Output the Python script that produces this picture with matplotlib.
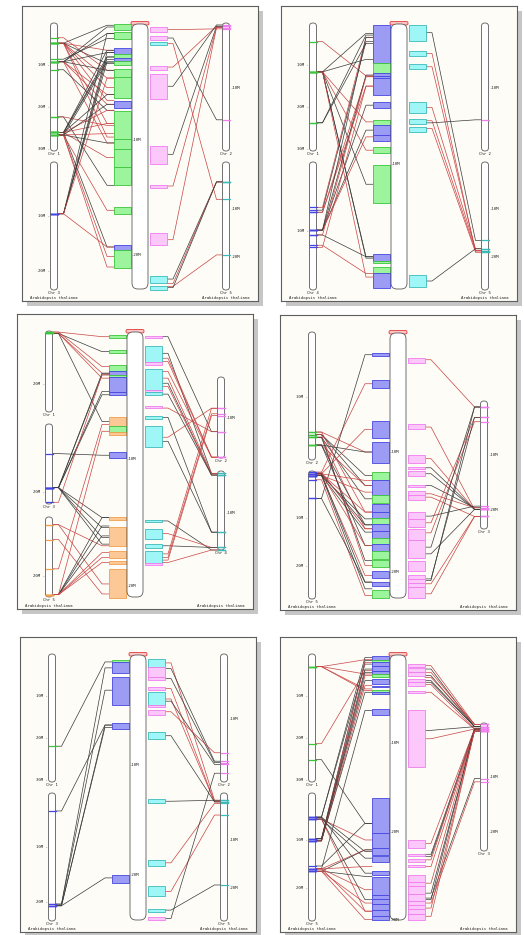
import matplotlib.pyplot as plt
from matplotlib.patches import Rectangle, FancyBboxPatch

# chromosome lengths (Mb), Arabidopsis thaliana
CHR_LEN = {"Chr 1": 30.4, "Chr 2": 19.7, "Chr 3": 23.5, "Chr 4": 18.6, "Chr 5": 27.0}
SPECIES = "Arabidopsis thaliana"

# length of the central (query) chromosome of each panel, Mb
CENTER_LEN = [22.9, 18.9, 20.9, 22.2, 24.1, 30.0]

# ---- panel 1 ----
P1_LEFT_CHR = ["Chr 1", "Chr 3"]
P1_RIGHT_CHR = ["Chr 2", "Chr 5"]
# (chrom idx, start Mb, end Mb) on the central chromosome
P1_LEFT_BLOCKS = [(0, 0.0, 0.5), (0, 0.7, 1.3), (1, 2.1, 2.6), (0, 2.6, 2.9), (1, 2.9, 3.2),
                  (0, 3.2, 3.5), (0, 3.9, 4.6), (0, 4.6, 6.4), (1, 6.65, 7.3), (0, 7.5, 9.9),
                  (0, 9.9, 10.77), (0, 10.77, 12.36), (0, 12.36, 13.9), (0, 15.8, 16.4),
                  (1, 19.1, 19.5), (0, 19.5, 21.1)]
P1_RIGHT_BLOCKS = [(0, 0.3, 0.65), (0, 1.05, 1.35), (1, 1.55, 1.8), (0, 3.6, 3.95), (0, 4.3, 6.5),
                   (0, 10.55, 12.1), (0, 13.9, 14.2), (0, 18.1, 19.1), (1, 21.75, 22.4),
                   (1, 22.6, 22.95)]
# (chrom idx, chrom Mb, central Mb, colour)
P1_LEFT_LINKS = [(0, 4.8, 0.11, 'k'), (0, 4.8, 2.27, 'r'), (0, 4.8, 4.67, 'r'), (0, 4.8, 5.5, 'r'),
                 (0, 4.8, 6.6, 'r'), (0, 4.8, 8.6, 'r'), (0, 4.8, 3.42, 'k'), (0, 4.8, 9.77, 'r'),
                 (0, 3.5, 4.0, 'r'), (0, 9.2, 0.26, 'k'), (0, 9.2, 0.83, 'k'), (0, 9.2, 2.47, 'k'),
                 (0, 9.2, 6.1, 'r'), (0, 9.2, 6.94, 'r'), (0, 9.2, 10.28, 'r'), (0, 9.2, 4.0, 'k'),
                 (0, 8.6, 1.26, 'k'), (0, 11.1, 7.46, 'k'), (0, 22.3, 13.94, 'k'), (0, 22.3, 8.76, 'r'),
                 (0, 26.0, 2.27, 'k'), (0, 26.0, 2.85, 'k'), (0, 26.0, 3.08, 'k'), (0, 26.0, 6.1, 'k'),
                 (0, 26.0, 7.46, 'r'), (0, 26.0, 8.6, 'r'), (0, 26.0, 11.55, 'r'), (0, 26.0, 19.27, 'k'),
                 (0, 26.6, 3.28, 'k'), (0, 26.6, 6.94, 'k'), (0, 26.6, 9.47, 'r'), (0, 26.6, 20.08, 'r'),
                 (0, 26.6, 21.0, 'r'), (0, 26.6, 16.1, 'r'), (0, 26.6, 10.28, 'k'),
                 (1, 9.5, 2.47, 'k'), (1, 9.5, 2.85, 'k'), (1, 9.5, 3.28, 'k'), (1, 9.5, 0.83, 'k'),
                 (1, 9.5, 19.27, 'r'), (1, 9.5, 4.67, 'r')]
P1_RIGHT_LINKS = [(0, 0.9, 0.49, 'r'), (0, 14.9, 1.21, 'k'), (1, 7.9, 1.7, 'r'), (0, 0.5, 3.72, 'r'),
                  (0, 0.3, 5.38, 'k'), (0, 0.5, 11.26, 'k'), (0, 0.7, 14.0, 'r'), (0, 0.7, 18.64, 'r'),
                  (1, 4.2, 22.04, 'k'), (1, 4.2, 22.44, 'r'), (1, 19.6, 22.67, 'r'), (1, 4.2, 22.78, 'k')]

# ---- panel 2 ----
P2_LEFT_CHR = ["Chr 1", "Chr 4"]
P2_RIGHT_CHR = ["Chr 2", "Chr 5"]
P2_LEFT_BLOCKS = [(1, 0.07, 2.76), (0, 2.76, 3.5), (1, 3.5, 3.71), (1, 3.71, 3.88), (1, 3.88, 5.07),
                  (1, 5.55, 6.02), (0, 6.86, 7.2), (1, 7.2, 7.93), (1, 7.93, 8.33), (0, 8.8, 9.2),
                  (0, 10.07, 12.8), (1, 16.4, 16.9), (0, 16.9, 17.05), (0, 17.3, 17.76),
                  (1, 17.76, 18.8)]
P2_RIGHT_BLOCKS = [(1, 0.07, 1.19), (1, 1.9, 2.28), (1, 2.86, 3.19), (1, 5.55, 6.33),
                   (1, 6.81, 7.14), (1, 7.34, 7.69), (1, 17.9, 18.76)]
P2_LEFT_LINKS = [(0, 4.4, 3.7, 'r'), (0, 11.6, 2.52, 'k'), (0, 11.6, 0.67, 'k'), (0, 11.6, 6.98, 'r'),
                 (0, 11.6, 9.0, 'r'), (0, 11.6, 11.43, 'k'), (0, 11.6, 16.7, 'k'), (0, 11.6, 16.6, 'k'),
                 (0, 11.6, 18.05, 'r'), (0, 23.7, 0.79, 'k'), (0, 23.7, 1.38, 'k'),
                 (1, 6.6, 0.95, 'r'), (1, 7.0, 1.26, 'k'), (1, 7.3, 3.76, 'r'), (1, 7.3, 4.43, 'r'),
                 (1, 9.9, 3.64, 'k'), (1, 9.9, 5.79, 'k'), (1, 9.9, 7.57, 'k'), (1, 9.9, 8.05, 'r'),
                 (1, 9.9, 0.95, 'k'), (1, 10.6, 16.6, 'k'), (1, 10.6, 3.76, 'r'),
                 (1, 12.1, 17.8, 'r'), (1, 12.4, 4.43, 'r')]
P2_RIGHT_LINKS = [(1, 16.55, 0.62, 'k'), (1, 19.0, 2.1, 'r'), (1, 18.67, 3.05, 'r'), (1, 18.3, 5.95, 'r'),
                  (1, 18.67, 6.9, 'r'), (0, 14.9, 7.05, 'k'), (1, 19.0, 7.45, 'r'), (1, 18.3, 18.33, 'k')]

# ---- panel 3 ----
P3_LEFT_CHR = ["Chr 1", "Chr 3", "Chr 5"]
P3_RIGHT_CHR = ["Chr 2", "Chr 4"]
P3_LEFT_BLOCKS = [(0, 0.24, 0.5), (0, 1.41, 1.68), (0, 2.6, 3.1), (1, 3.1, 3.4), (0, 3.4, 3.57),
                  (1, 3.57, 4.77), (1, 4.77, 5.0), (2, 6.7, 7.45), (0, 7.45, 7.85), (2, 7.85, 8.1),
                  (1, 9.46, 9.93), (2, 14.6, 14.8), (2, 15.4, 16.9), (2, 17.3, 17.8), (2, 18.1, 18.3),
                  (2, 18.7, 21.0)]
P3_RIGHT_BLOCKS = [(0, 0.29, 0.5), (1, 1.1, 2.39), (0, 2.39, 2.6), (1, 2.9, 4.6), (0, 4.6, 4.77),
                   (1, 4.77, 5.0), (0, 5.8, 6.0), (1, 6.65, 6.86), (1, 7.44, 9.09), (1, 14.82, 14.98),
                   (1, 15.5, 16.3), (1, 16.7, 17.0), (1, 17.26, 18.2), (0, 18.2, 18.36)]
P3_LEFT_LINKS = [(0, 0.4, 0.37, 'r'), (0, 0.9, 1.55, 'k'), (0, 0.4, 2.73, 'r'), (0, 0.9, 3.25, 'r'),
                 (0, 0.9, 3.64, 'r'), (0, 0.9, 7.05, 'k'), (1, 8.7, 9.72, 'k'),
                 (1, 18.7, 3.25, 'k'), (1, 18.7, 3.38, 'k'), (1, 18.7, 4.95, 'k'), (1, 18.7, 4.69, 'k'),
                 (1, 23.0, 3.38, 'r'), (1, 18.7, 14.64, 'k'), (1, 18.7, 15.43, 'k'), (1, 18.7, 16.2, 'k'),
                 (1, 18.7, 16.73, 'k'), (2, 2.6, 16.86, 'r'), (2, 2.6, 19.87, 'r'), (2, 7.6, 20.66, 'r'),
                 (2, 17.5, 7.3, 'r'), (2, 26.2, 14.64, 'k'), (2, 26.2, 15.3, 'k'), (2, 26.2, 16.08, 'k'),
                 (2, 26.2, 17.4, 'r'), (2, 26.2, 17.78, 'r'), (2, 26.2, 18.18, 'r'), (2, 26.2, 7.83, 'r')]
P3_RIGHT_LINKS = [(0, 13.3, 0.37, 'k'), (1, 0.55, 1.68, 'k'), (0, 19.5, 2.07, 'r'), (0, 19.5, 2.33, 'r'),
                  (0, 19.5, 3.12, 'r'), (1, 0.55, 3.64, 'r'), (1, 0.95, 4.04, 'k'), (1, 0.95, 4.3, 'r'),
                  (1, 0.95, 4.9, 'k'), (0, 13.3, 6.0, 'r'), (1, 14.4, 6.73, 'k'), (0, 7.6, 8.3, 'r'),
                  (1, 14.4, 8.62, 'k'), (1, 18.6, 14.9, 'k'), (1, 18.0, 15.9, 'r'), (1, 18.0, 16.86, 'k'),
                  (0, 7.6, 17.5, 'r'), (0, 8.95, 17.78, 'r'), (0, 9.4, 17.99, 'r'), (1, 18.6, 18.18, 'r')]

# ---- panel 4 ----
P4_LEFT_CHR = ["Chr 2", "Chr 5"]
P4_RIGHT_CHR = ["Chr 3"]
P4_LEFT_BLOCKS = [(1, 1.68, 1.93), (1, 3.9, 4.6), (1, 7.38, 8.8), (1, 9.14, 10.9), (0, 11.65, 12.35),
                  (1, 12.35, 13.55), (0, 13.55, 14.2), (1, 14.3, 15.0), (1, 15.0, 15.5), (0, 15.5, 15.98),
                  (1, 15.98, 16.6), (1, 16.6, 17.2), (0, 17.2, 17.7), (1, 17.7, 18.3), (0, 18.3, 18.9),
                  (0, 19.05, 19.6), (1, 19.9, 20.5), (1, 20.9, 21.2), (0, 21.5, 22.2)]
P4_RIGHT_BLOCKS = [(0, 2.07, 2.49), (0, 7.65, 8.07), (0, 10.25, 10.87), (0, 11.23, 11.37), (0, 11.6, 12.0),
                   (0, 12.7, 12.9), (0, 13.27, 13.6), (0, 13.6, 14.0), (0, 15.0, 15.6), (0, 15.6, 16.26),
                   (0, 16.46, 17.3), (0, 17.3, 18.86), (0, 19.14, 19.9), (0, 20.3, 20.65),
                   (0, 20.65, 20.95), (0, 20.95, 21.25), (0, 21.25, 22.2)]
P4_LEFT_LINKS = [(0, 15.4, 9.97, 'r'), (0, 15.8, 11.93, 'k'), (0, 15.8, 12.77, 'k'), (0, 16.2, 13.89, 'k'),
                 (0, 15.4, 15.0, 'r'), (0, 16.2, 16.4, 'r'), (0, 15.8, 19.47, 'r'), (0, 17.4, 9.97, 'k'),
                 (0, 17.4, 12.77, 'r'), (0, 17.4, 16.07, 'k'), (0, 17.4, 17.8, 'k'), (0, 16.2, 19.05, 'k'),
                 (1, 0.6, 8.07, 'r'), (1, 0.25, 4.25, 'r'), (1, 5.8, 1.82, 'k'), (1, 0.6, 12.35, 'r'),
                 (1, 0.95, 13.33, 'r'), (1, 0.6, 15.0, 'r'), (1, 0.95, 15.57, 'k'), (1, 0.6, 16.07, 'k'),
                 (1, 0.95, 16.68, 'k'), (1, 0.6, 17.8, 'r'), (1, 0.95, 20.31, 'r'), (1, 0.6, 20.87, 'k'),
                 (1, 0.95, 21.43, 'k'), (1, 1.85, 21.99, 'r'), (1, 5.8, 20.87, 'k'), (1, 0.25, 16.4, 'r')]
P4_RIGHT_LINKS = [(0, 1.1, 2.24, 'r'), (0, 19.9, 7.88, 'r'), (0, 19.9, 10.53, 'r'), (0, 19.9, 11.29, 'k'),
                  (0, 19.9, 11.79, 'k'), (0, 19.6, 12.77, 'k'), (0, 19.6, 13.47, 'r'), (0, 21.2, 13.75, 'r'),
                  (0, 19.3, 15.34, 'k'), (0, 3.0, 15.9, 'r'), (0, 3.8, 16.74, 'r'), (0, 1.1, 17.94, 'k'),
                  (0, 3.0, 20.6, 'k'), (0, 1.1, 20.73, 'k'), (0, 21.2, 21.01, 'r'), (0, 21.2, 21.85, 'r'),
                  (0, 19.9, 18.5, 'k')]

# ---- panel 5 ----
P5_LEFT_CHR = ["Chr 1", "Chr 3"]
P5_RIGHT_CHR = ["Chr 2", "Chr 5"]
P5_LEFT_BLOCKS = [(0, 0.5, 0.66), (1, 0.66, 1.6), (1, 2.0, 4.56), (1, 6.2, 6.7), (1, 20.0, 20.7)]
P5_RIGHT_BLOCKS = [(1, 0.33, 1.08), (0, 1.08, 2.0), (0, 2.0, 2.29), (0, 2.9, 3.2), (1, 3.4, 4.56),
                   (0, 4.56, 4.7), (0, 5.0, 5.47), (1, 7.0, 7.64), (1, 13.1, 13.5), (1, 18.67, 19.16),
                   (1, 21.0, 21.9), (1, 23.1, 23.35), (0, 23.8, 24.1)]
P5_LEFT_LINKS = [(0, 21.9, 0.63, 'k'), (1, 3.3, 6.37, 'k'), (1, 20.4, 1.17, 'k'), (1, 20.4, 3.2, 'k'),
                 (1, 20.7, 6.37, 'k'), (1, 20.7, 6.58, 'k'), (1, 20.7, 20.27, 'k')]
P5_RIGHT_LINKS = [(1, 1.53, 0.72, 'r'), (0, 16.5, 1.23, 'k'), (0, 16.7, 2.14, 'k'), (1, 1.87, 3.05, 'r'),
                  (1, 1.87, 4.0, 'r'), (0, 17.0, 4.2, 'k'), (0, 15.2, 5.16, 'r'), (1, 1.87, 7.34, 'k'),
                  (1, 1.53, 13.3, 'k'), (1, 2.2, 18.9, 'r'), (1, 4.65, 21.5, 'r'), (1, 19.4, 23.2, 'k'),
                  (0, 18.35, 23.96, 'k')]

# ---- panel 6 ----
P6_LEFT_CHR = ["Chr 1", "Chr 5"]
P6_RIGHT_CHR = ["Chr 3"]
P6_LEFT_BLOCKS = [(1, 0.08, 0.53), (0, 0.53, 0.76), (1, 0.76, 1.3), (1, 1.3, 1.85), (1, 1.85, 2.15),
                  (0, 2.15, 2.45), (1, 2.71, 3.28), (1, 3.46, 3.65), (0, 3.95, 4.22), (1, 4.22, 4.4),
                  (1, 6.1, 6.77), (1, 16.17, 20.2), (1, 20.2, 21.9), (1, 21.9, 22.6), (1, 22.8, 23.4),
                  (1, 24.5, 24.96), (1, 25.15, 27.2), (1, 27.2, 27.6), (1, 27.6, 28.2), (1, 28.2, 28.9),
                  (1, 28.9, 29.5), (1, 29.5, 30.0)]
P6_RIGHT_BLOCKS = [(0, 1.02, 1.32), (0, 1.47, 1.9), (0, 1.9, 2.34), (0, 2.71, 3.1), (0, 3.1, 3.46),
                   (0, 4.03, 4.3), (0, 6.2, 12.67), (0, 20.9, 21.9), (0, 22.55, 22.8), (0, 23.1, 23.4),
                   (0, 23.8, 24.0), (0, 24.9, 25.7), (0, 25.7, 26.1), (0, 26.1, 27.0), (0, 27.0, 27.8),
                   (0, 27.8, 28.3), (0, 28.3, 28.7), (0, 28.7, 29.3), (0, 29.3, 29.95)]
P6_LEFT_LINKS = [(0, 3.0, 0.53, 'r'), (0, 3.0, 2.15, 'r'), (0, 3.0, 3.84, 'r'), (0, 3.0, 4.03, 'r'),
                 (0, 21.3, 1.77, 'r'), (0, 25.1, 19.06, 'k'),
                 (1, 5.1, 0.27, 'k'), (1, 5.1, 1.03, 'k'), (1, 5.5, 20.94, 'r'), (1, 5.1, 22.25, 'k'),
                 (1, 5.5, 23.0, 'k'), (1, 5.1, 24.7, 'k'), (1, 5.5, 27.7, 'k'), (1, 5.5, 29.0, 'r'),
                 (1, 9.65, 0.64, 'k'), (1, 9.65, 0.83, 'r'), (1, 9.65, 1.59, 'k'), (1, 10.1, 1.96, 'k'),
                 (1, 10.1, 2.34, 'r'), (1, 9.65, 2.9, 'k'), (1, 10.1, 3.46, 'r'), (1, 10.1, 4.22, 'k'),
                 (1, 16.0, 6.28, 'k'), (1, 15.4, 19.06, 'k'), (1, 16.0, 22.06, 'r'), (1, 16.5, 22.06, 'k'),
                 (1, 16.0, 23.95, 'r'), (1, 16.5, 25.07, 'k'), (1, 16.0, 26.57, 'r'), (1, 16.5, 28.08, 'r'),
                 (1, 16.0, 29.0, 'r'), (1, 16.5, 29.96, 'r')]
P6_RIGHT_LINKS = [(0, 0.25, 1.21, 'r'), (0, 0.68, 1.59, 'k'), (0, 0.25, 1.96, 'r'), (0, 0.68, 2.34, 'k'),
                  (0, 0.25, 2.53, 'r'), (0, 0.68, 2.9, 'k'), (0, 0.68, 3.09, 'k'), (0, 1.1, 3.35, 'r'),
                  (0, 1.1, 4.22, 'r'), (0, 0.68, 8.53, 'k'), (0, 1.1, 9.48, 'r'), (0, 1.1, 21.32, 'r'),
                  (0, 1.1, 22.56, 'k'), (0, 1.47, 22.82, 'k'), (0, 1.1, 23.19, 'r'), (0, 1.47, 23.95, 'r'),
                  (0, 1.1, 25.83, 'r'), (0, 1.47, 26.96, 'k'), (0, 10.2, 27.52, 'k'), (0, 1.1, 27.7, 'k'),
                  (0, 10.8, 28.08, 'r'), (0, 1.47, 28.65, 'r'), (0, 1.47, 29.58, 'r')]

PANELS = [
    (P1_LEFT_CHR, P1_RIGHT_CHR, P1_LEFT_BLOCKS, P1_RIGHT_BLOCKS, P1_LEFT_LINKS, P1_RIGHT_LINKS),
    (P2_LEFT_CHR, P2_RIGHT_CHR, P2_LEFT_BLOCKS, P2_RIGHT_BLOCKS, P2_LEFT_LINKS, P2_RIGHT_LINKS),
    (P3_LEFT_CHR, P3_RIGHT_CHR, P3_LEFT_BLOCKS, P3_RIGHT_BLOCKS, P3_LEFT_LINKS, P3_RIGHT_LINKS),
    (P4_LEFT_CHR, P4_RIGHT_CHR, P4_LEFT_BLOCKS, P4_RIGHT_BLOCKS, P4_LEFT_LINKS, P4_RIGHT_LINKS),
    (P5_LEFT_CHR, P5_RIGHT_CHR, P5_LEFT_BLOCKS, P5_RIGHT_BLOCKS, P5_LEFT_LINKS, P5_RIGHT_LINKS),
    (P6_LEFT_CHR, P6_RIGHT_CHR, P6_LEFT_BLOCKS, P6_RIGHT_BLOCKS, P6_LEFT_LINKS, P6_RIGHT_LINKS),
]

# ---- layout (pixels) ----
W, H = 524, 935
PW, PH = 236, 295
PANEL_XY = [(22, 6), (281, 6), (17, 314), (280, 315), (20, 637), (280, 637)]
LEFT_SLOTS = {2: [(17, 145), (156, 284)], 3: [(17, 98), (110, 190), (203, 283)]}
RIGHT_SLOTS = [[(17, 145), (156, 284)], [(17, 145), (156, 284)], [(63, 144), (157, 236)],
               [(86, 214)], [(17, 145), (156, 284)], [(86, 214)]]
LEFT_TICK_STEP = [10, 10, 20, 10, 10, 10]
LCHR_X, RCHR_X, CHR_W = 32, 204, 7
CEN_X0, CEN_X1, CEN_Y0, CEN_Y1 = 110, 126, 18, 283
LBLK_X0, LBLK_X1 = 92, 109
RBLK_X0, RBLK_X1 = 128, 145
SPECIES_Y = 292

LINK_COL = {'k': '#3a3a3a', 'r': '#c84444'}
LEFT_FILL = ['#9cf49c', '#9c9cf4', '#fcc896']
LEFT_EDGE = ['#3cc43c', '#4646e2', '#f2a04c']
RIGHT_FILL = ['#fcc8fc', '#9ef6f6']
RIGHT_EDGE = ['#f07cf0', '#3cbaba']
FONT = dict(family='DejaVu Sans Mono', fontsize=2.9, color='#222222')


def ymap(mb, slot, length):
    return slot[0] + mb * (slot[1] - slot[0]) / length


def draw_chrom(ax, xc, slot, name, step, side):
    length = CHR_LEN[name]
    ax.add_patch(FancyBboxPatch((xc - CHR_W / 2, slot[0]), CHR_W, slot[1] - slot[0],
                                boxstyle='round,pad=0,rounding_size=3.4',
                                fc='white', ec='#5a5a5a', lw=0.6, zorder=3))
    m = step
    while m <= length + 0.05:
        y = ymap(m, slot, length)
        if side == 'left':
            ax.text(xc - CHR_W / 2 - 0.5, y, f"{m}M -", ha='right', va='center', **FONT)
        else:
            ax.text(xc + CHR_W / 2 + 0.5, y, f"-{m}M", ha='left', va='center', **FONT)
        m += step
    ax.text(xc, slot[1] + 3.3, name, ha='center', va='center', **FONT)


fig = plt.figure(figsize=(W / 100, H / 100), dpi=100)

for k, (lchr, rchr, lblk, rblk, llnk, rlnk) in enumerate(PANELS):
    px, py = PANEL_XY[k]
    # drop shadow
    fig.patches.append(Rectangle(((px + 5) / W, 1 - (py + PH + 5) / H), PW / W, PH / H,
                                 transform=fig.transFigure, fc='#c6c6c6', ec='none', zorder=-1))
    ax = fig.add_axes([px / W, 1 - (py + PH) / H, PW / W, PH / H])
    ax.set_xlim(0, PW)
    ax.set_ylim(PH, 0)
    ax.set_facecolor('#fdfcf6')
    ax.set_xticks([])
    ax.set_yticks([])
    for s in ax.spines.values():
        s.set_edgecolor('#5e5e5e')
        s.set_linewidth(0.8)

    clen = CENTER_LEN[k]
    cslot = (CEN_Y0, CEN_Y1)
    lslots = LEFT_SLOTS[len(lchr)]
    rslots = RIGHT_SLOTS[k]

    # links
    for ci, cm, mb, c in llnk:
        y1 = ymap(cm, lslots[ci], CHR_LEN[lchr[ci]])
        y2 = ymap(mb, cslot, clen)
        x0 = LCHR_X + CHR_W / 2
        ax.plot([x0, x0 + 6, LBLK_X0 - 7, LBLK_X0], [y1, y1, y2, y2],
                color=LINK_COL[c], lw=0.5, zorder=2, solid_joinstyle='miter')
    for ci, cm, mb, c in rlnk:
        y1 = ymap(cm, rslots[ci], CHR_LEN[rchr[ci]])
        y2 = ymap(mb, cslot, clen)
        x1 = RCHR_X - CHR_W / 2
        ax.plot([RBLK_X1, RBLK_X1 + 6, x1 - 6, x1], [y2, y2, y1, y1],
                color=LINK_COL[c], lw=0.5, zorder=2, solid_joinstyle='miter')

    # synteny blocks
    for ci, a, b in lblk:
        ya, yb = ymap(a, cslot, clen), ymap(b, cslot, clen)
        ax.add_patch(Rectangle((LBLK_X0, ya), LBLK_X1 - LBLK_X0, yb - ya,
                               fc=LEFT_FILL[ci], ec=LEFT_EDGE[ci], lw=0.6, zorder=4))
    for ci, a, b in rblk:
        ya, yb = ymap(a, cslot, clen), ymap(b, cslot, clen)
        ax.add_patch(Rectangle((RBLK_X0, ya), RBLK_X1 - RBLK_X0, yb - ya,
                               fc=RIGHT_FILL[ci], ec=RIGHT_EDGE[ci], lw=0.6, zorder=4))

    # central chromosome, tick labels sit inside it
    ax.add_patch(FancyBboxPatch((CEN_X0 - 1, CEN_Y0 - 2.5), CEN_X1 - CEN_X0 + 2, 3.5,
                                boxstyle='round,pad=0,rounding_size=1.5',
                                fc='#ffc4c4', ec='#e03c3c', lw=0.6, zorder=3))
    ax.add_patch(FancyBboxPatch((CEN_X0, CEN_Y0), CEN_X1 - CEN_X0, CEN_Y1 - CEN_Y0,
                                boxstyle='round,pad=0,rounding_size=6',
                                fc='white', ec='#5a5a5a', lw=0.6, zorder=4))
    m = 10
    while m <= clen + 0.05:
        ax.text(CEN_X0 - 0.3, ymap(m, cslot, clen), f"-{m}M", ha='left', va='center',
                zorder=6, **FONT)
        m += 10

    # flanking chromosomes
    for i, name in enumerate(lchr):
        draw_chrom(ax, LCHR_X, lslots[i], name, LEFT_TICK_STEP[k], 'left')
    for i, name in enumerate(rchr):
        draw_chrom(ax, RCHR_X, rslots[i], name, 10, 'right')

    # hit marks on the flanking chromosomes
    for ci, cm, mb, c in llnk:
        y = ymap(cm, lslots[ci], CHR_LEN[lchr[ci]])
        ax.plot([LCHR_X - CHR_W / 2, LCHR_X + CHR_W / 2], [y, y], color=LEFT_EDGE[ci], lw=0.9, zorder=5)
    for ci, cm, mb, c in rlnk:
        y = ymap(cm, rslots[ci], CHR_LEN[rchr[ci]])
        ax.plot([RCHR_X - CHR_W / 2, RCHR_X + CHR_W / 2], [y, y], color=RIGHT_EDGE[ci], lw=0.9, zorder=5)

    ax.text(LCHR_X, SPECIES_Y, SPECIES, ha='center', va='center', **FONT)
    ax.text(RCHR_X, SPECIES_Y, SPECIES, ha='center', va='center', **FONT)

fig.savefig('out.png', dpi=100, facecolor='white')
